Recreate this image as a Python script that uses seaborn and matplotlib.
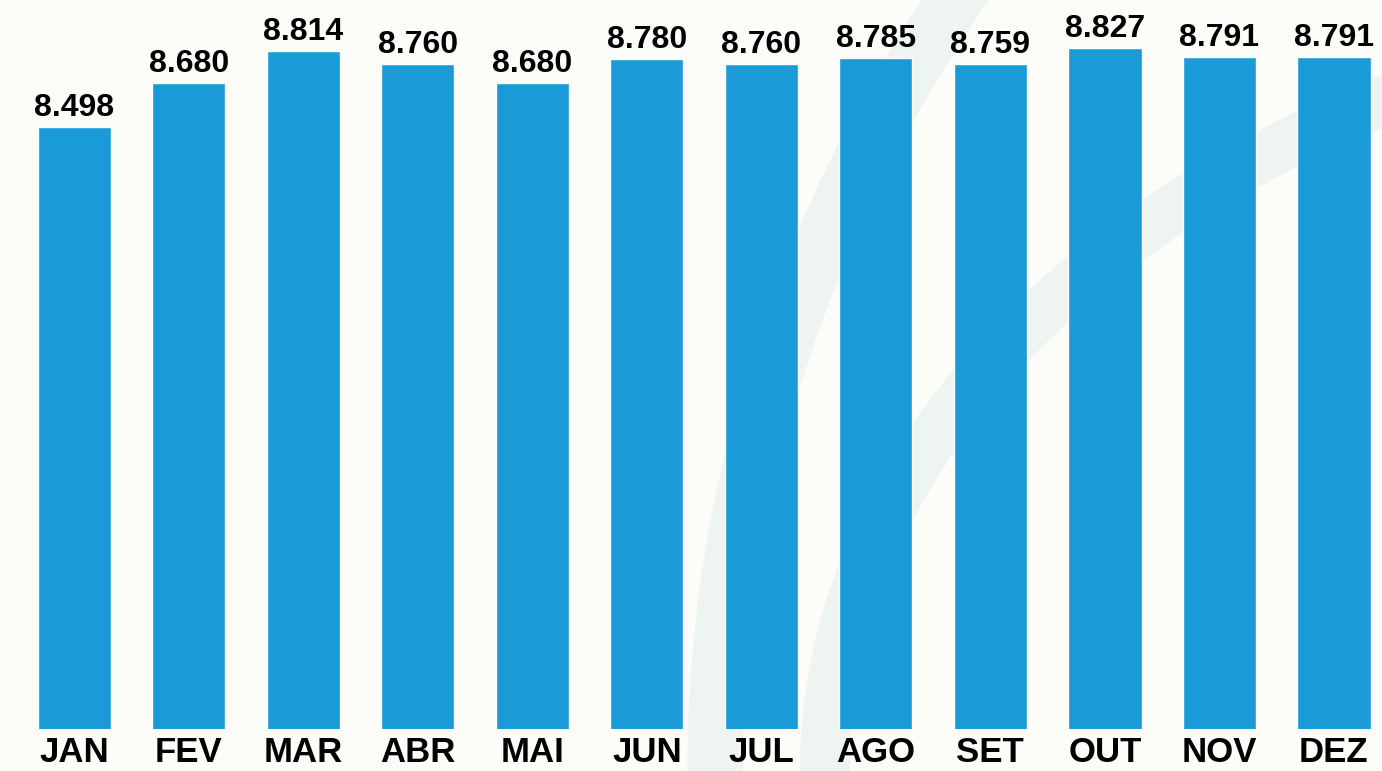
import matplotlib
matplotlib.use("Agg")
import matplotlib.pyplot as plt
from matplotlib.patches import Arc
from matplotlib.transforms import IdentityTransform
import seaborn as sns
import pandas as pd

sns.set_theme(style="white")
plt.rcParams["font.family"] = ["Liberation Sans", "DejaVu Sans"]

# monthly values (the labels use "." as thousands separator)
months = ["JAN", "FEV", "MAR", "ABR", "MAI", "JUN", "JUL", "AGO", "SET", "OUT", "NOV", "DEZ"]
values = [8498, 8680, 8814, 8760, 8680, 8780, 8760, 8785, 8759, 8827, 8791, 8791]

df = pd.DataFrame({"mes": months, "valor": values})

fig = plt.figure(figsize=(13.82, 7.71), dpi=100)
fig.patch.set_facecolor("#fcfdf9")

# faint decorative arcs behind the bars (pixel coords)
fig.patches.append(Arc((2430, 0), 3430, 3022, theta1=140, theta2=180,
                       transform=IdentityTransform(), color="#eef4f2",
                       lw=40, zorder=-5))
fig.patches.append(Arc((1930, 0), 2210, 1542, theta1=100, theta2=180,
                       transform=IdentityTransform(), color="#eef4f2",
                       lw=36, zorder=-5))

ax = fig.add_axes([17 / 1382, 42 / 771, 1 - 17 / 1382, 729 / 771])
ax.set_zorder(2)
ax.set_facecolor("none")

sns.barplot(data=df, x="mes", y="valor", color="#1a9bd8", width=0.64,
            saturation=1, ax=ax)

ax.set_ylim(5991, 9027)
ax.set_xlim(-0.5, 11.42)

labels = [f"{v:,}".replace(",", ".") for v in values]
ax.bar_label(ax.containers[0], labels=labels, padding=3,
             fontsize=23, fontweight="bold", color="black")

ax.set_xlabel("")
ax.set_ylabel("")
ax.set_yticks([])
ax.tick_params(axis="x", length=0, pad=5, labelsize=25)
for t in ax.get_xticklabels():
    t.set_fontweight("bold")
    t.set_color("black")
sns.despine(ax=ax, left=True, bottom=True)

fig.savefig("out.png", dpi=100, facecolor=fig.get_facecolor())
